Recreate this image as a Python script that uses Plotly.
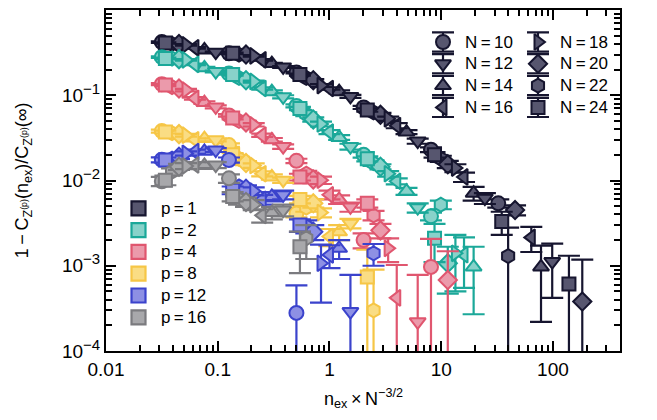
import plotly.graph_objects as go

# ---------------- data: x = n_ex * N^(-3/2) grid for each system size ----------------
X_N10 = [0.0316, 0.126, 0.506, 2.02, 8.1, 32.4]
X_N12 = [0.096, 0.385, 1.54, 6.16, 24.6, 98.5]
X_N14 = [0.076, 0.305, 1.22, 4.89, 19.5, 78.2]
X_N16 = [0.0625, 0.25, 1.0, 4.0, 16.0, 64.0]
X_N18 = [0.052, 0.21, 0.84, 3.35, 13.4, 53.6]
X_N20 = [0.045, 0.179, 0.716, 2.86, 11.45, 45.8, 183.0]
X_N22 = [0.039, 0.155, 0.62, 2.48, 9.92, 39.7]
X_N24 = [0.034, 0.136, 0.544, 2.18, 8.71, 34.8, 139.0]

# ---------------- p = 1 ----------------
Y_P1_N10 = [0.42, 0.31, 0.185, 0.072, 0.023, 0.0054]
E_P1_N10 = [0.008, 0.006, 0.005, 0.003, 0.0015, 0.0006]
Y_P1_N12 = [0.32, 0.215, 0.097, 0.029, 0.0062, 0.00112]
E_P1_N12 = [0.006, 0.005, 0.004, 0.002, 0.0009, 0.0007]
Y_P1_N14 = [0.34, 0.235, 0.11, 0.037, 0.0071, 0.00097]
E_P1_N14 = [0.007, 0.005, 0.004, 0.002, 0.0013, 0.00075]
Y_P1_N16 = [0.36, 0.26, 0.12, 0.044, 0.011, 0.00215]
E_P1_N16 = [0.007, 0.005, 0.004, 0.003, 0.0014, 0.0007]
Y_P1_N18 = [0.39, 0.29, 0.13, 0.053, 0.014]
E_P1_N18 = [0.008, 0.006, 0.005, 0.003, 0.0015]
Y_P1_N20 = [0.40, 0.30, 0.15, 0.059, 0.0155, 0.0045, 0.00038]
E_P1_N20 = [0.008, 0.006, 0.005, 0.003, 0.0015, 0.0006, 0.0008]
Y_P1_N22 = [0.40, 0.30, 0.16, 0.063, 0.018, 0.0013]
E_P1_N22 = [0.008, 0.006, 0.005, 0.003, 0.0015, 0.0015]
Y_P1_N24 = [0.41, 0.31, 0.175, 0.067, 0.020, 0.0033, 0.00061]
E_P1_N24 = [0.008, 0.006, 0.005, 0.003, 0.0015, 0.001, 0.0007]

# ---------------- p = 2 ----------------
Y_P2_N10 = [0.28, 0.18, 0.075, 0.020, 0.0038]
E_P2_N10 = [0.006, 0.005, 0.003, 0.0015, 0.0004]
Y_P2_N12 = [0.19, 0.096, 0.025, 0.0048]
E_P2_N12 = [0.005, 0.004, 0.002, 0.0006]
Y_P2_N14 = [0.21, 0.11, 0.032, 0.0075, 0.00097]
E_P2_N14 = [0.005, 0.004, 0.002, 0.0007, 0.0007]
Y_P2_N16 = [0.23, 0.12, 0.037, 0.0098, 0.00135]
E_P2_N16 = [0.005, 0.004, 0.002, 0.0008, 0.0008]
Y_P2_N18 = [0.26, 0.145, 0.046, 0.012, 0.0014]
E_P2_N18 = [0.006, 0.004, 0.003, 0.0009, 0.0009]
Y_P2_N20 = [0.265, 0.15, 0.052, 0.0145, 0.00107]
E_P2_N20 = [0.006, 0.004, 0.003, 0.001, 0.0006]
Y_P2_N22 = [0.27, 0.16, 0.060, 0.016, 0.0052]
E_P2_N22 = [0.006, 0.004, 0.003, 0.0012, 0.0006]
Y_P2_N24 = [0.27, 0.175, 0.070, 0.018, 0.0021]
E_P2_N24 = [0.006, 0.005, 0.003, 0.0012, 0.001]

# ---------------- p = 4 ----------------
Y_P4_N10 = [0.135, 0.058, 0.017, 0.0020, 0.00097]
E_P4_N10 = [0.004, 0.002, 0.001, 0.0004, 0.0011]
Y_P4_N12 = [0.073, 0.025, 0.0049, 0.00022]
E_P4_N12 = [0.003, 0.0015, 0.0006, 0.00056]
Y_P4_N14 = [0.082, 0.030, 0.0060]
E_P4_N14 = [0.003, 0.0015, 0.0007]
Y_P4_N16 = [0.092, 0.034, 0.0068, 0.00042]
E_P4_N16 = [0.003, 0.0015, 0.0008, 0.0006]
Y_P4_N18 = [0.115, 0.045, 0.0101, 0.0016]
E_P4_N18 = [0.004, 0.002, 0.001, 0.0005]
Y_P4_N20 = [0.12, 0.048, 0.0103, 0.0026, 0.00068]
E_P4_N20 = [0.004, 0.002, 0.001, 0.0005, 0.0008]
Y_P4_N22 = [0.125, 0.050, 0.012, 0.0039]
E_P4_N22 = [0.004, 0.002, 0.001, 0.0005]
Y_P4_N24 = [0.132, 0.054, 0.011, 0.0054]
E_P4_N24 = [0.004, 0.002, 0.001, 0.0006]

# ---------------- p = 8 ----------------
Y_P8_N10 = [0.038, 0.026, 0.0041]
E_P8_N10 = [0.0015, 0.0012, 0.0004]
Y_P8_N12 = [0.030, 0.0101, 0.00315]
E_P8_N12 = [0.0012, 0.0007, 0.0004]
Y_P8_N14 = [0.031, 0.011, 0.0025]
E_P8_N14 = [0.0012, 0.0008, 0.0005]
Y_P8_N16 = [0.030, 0.012, 0.0022]
E_P8_N16 = [0.0012, 0.0008, 0.0005]
Y_P8_N18 = [0.034, 0.015, 0.0042]
E_P8_N18 = [0.0013, 0.0009, 0.0005]
Y_P8_N20 = [0.035, 0.016, 0.0054]
E_P8_N20 = [0.0013, 0.0009, 0.0006]
Y_P8_N22 = [0.036, 0.018, 0.0048, 0.00030]
E_P8_N22 = [0.0014, 0.001, 0.0005, 0.0006]
Y_P8_N24 = [0.037, 0.020, 0.0060, 0.00074]
E_P8_N24 = [0.0014, 0.001, 0.0006, 0.0008]

# ---------------- p = 12 ----------------
Y_P12_N10 = [0.0175, 0.0174, 0.00028]
E_P12_N10 = [0.0012, 0.0012, 0.00031]
Y_P12_N12 = [0.0228, 0.0068, 0.00029]
E_P12_N12 = [0.0012, 0.0008, 0.00049]
Y_P12_N14 = [0.022, 0.0065, 0.0016]
E_P12_N14 = [0.0012, 0.0008, 0.0004]
Y_P12_N16 = [0.0218, 0.0060, 0.00134]
E_P12_N16 = [0.0012, 0.0008, 0.0004]
Y_P12_N18 = [0.0208, 0.0075, 0.00107]
E_P12_N18 = [0.0012, 0.0008, 0.0007]
Y_P12_N20 = [0.019, 0.0080, 0.0025]
E_P12_N20 = [0.0012, 0.0008, 0.0005]
Y_P12_N22 = [0.018, 0.0085, 0.0029, 0.0014]
E_P12_N22 = [0.0012, 0.0008, 0.0005, 0.0004]
Y_P12_N24 = [0.0174, 0.0077, 0.0030]
E_P12_N24 = [0.0012, 0.0008, 0.0005]

# ---------------- p = 16 ----------------
Y_P16_N10 = [0.0098, 0.0106]
E_P16_N10 = [0.0012, 0.0012]
Y_P16_N12 = [0.0152, 0.0045]
E_P16_N12 = [0.0012, 0.0007]
Y_P16_N14 = [0.0150, 0.0042]
E_P16_N14 = [0.0012, 0.0007]
Y_P16_N16 = [0.0152, 0.0039]
E_P16_N16 = [0.0012, 0.0007]
Y_P16_N18 = [0.0148, 0.0052]
E_P16_N18 = [0.0012, 0.0007]
Y_P16_N20 = [0.0145, 0.0056]
E_P16_N20 = [0.0012, 0.0007]
Y_P16_N22 = [0.0127, 0.0060, 0.0021]
E_P16_N22 = [0.0012, 0.0008, 0.0009]
Y_P16_N24 = [0.0101, 0.0065, 0.00167]
E_P16_N24 = [0.0013, 0.0008, 0.00085]

P_VALUES = [1, 2, 4, 8, 12, 16]
N_VALUES = [10, 12, 14, 16, 18, 20, 22, 24]
X_TICKS = [0.01, 0.1, 1, 10, 100]
X_TICK_TEXT = ["0.01", "0.1", "1", "10", "100"]
Y_TICKS = [1, 0.1, 0.01, 0.001, 0.0001]
SUP = "<sup><span style='font-size:15px'>\u2212{}</span></sup>"
Y_TICK_TEXT = ["1", "10" + SUP.format(1), "10" + SUP.format(2), "10" + SUP.format(3), "10" + SUP.format(4)]

# ---------------- table built from the arrays ----------------
g = globals()
X_BY_N = {n: g[f"X_N{n}"] for n in N_VALUES}
DATA = {(p, n): (g[f"Y_P{p}_N{n}"], g[f"E_P{p}_N{n}"]) for p in P_VALUES for n in N_VALUES}

LINE_COL = {1: "#16152f", 2: "#1ba899", 4: "#e0566f", 8: "#f6c646", 12: "#3b43cc", 16: "#7b7b7f"}
FILL_COL = {1: "#57566f", 2: "#88d2ca", 4: "#eb9aab", 8: "#fadd84", 12: "#8d90e4", 16: "#a8a8ab"}
SYMBOL = {10: "circle", 12: "triangle-down", 14: "triangle-up", 16: "triangle-left",
          18: "triangle-right", 20: "diamond", 22: "hexagon", 24: "square"}
MSIZE = {10: 14, 12: 14, 14: 14, 16: 14, 18: 14, 20: 14, 22: 14, 24: 13}
DRAW_ORDER = [10, 22, 20, 14, 16, 18, 12, 24]

FONT = "Liberation Sans, Arial, Helvetica, sans-serif"

# page body adds an 8 px offset; the figure is sized so that the plot area
# lands at window pixels x 106..620, y 10..351
PAGE_OFFSET = 8
FIG_W, FIG_H = 657 - PAGE_OFFSET, 420 - PAGE_OFFSET
M_L, M_R, M_T, M_B = 106 - PAGE_OFFSET, 37, 10 - PAGE_OFFSET, 69

fig = go.Figure()

for p in P_VALUES:
    for n in DRAW_ORDER:
        ys, es = DATA[(p, n)]
        xs = X_BY_N[n][:len(ys)]
        fig.add_trace(go.Scatter(
            x=xs, y=ys, mode="markers",
            marker=dict(symbol=SYMBOL[n], size=MSIZE[n], color=FILL_COL[p],
                        line=dict(color=LINE_COL[p], width=2)),
            error_y=dict(type="data", array=es, visible=True, color=LINE_COL[p],
                         thickness=2.2, width=11),
            showlegend=False, hoverinfo="skip"))

# ---------------- custom legends (plot-area pixel overlay axes) ----------------
N_LEG_COL_X = [443, 538]
N_LEG_ROW_Y = [42, 63.8, 85.6, 107.4]
for i, n in enumerate(N_VALUES):
    cx = N_LEG_COL_X[i // 4]
    cy = N_LEG_ROW_Y[i % 4]
    fig.add_trace(go.Scatter(
        x=[cx], y=[cy], mode="markers", xaxis="x2", yaxis="y2",
        marker=dict(symbol=SYMBOL[n], size=MSIZE[n], color=FILL_COL[1],
                    line=dict(color=LINE_COL[1], width=2)),
        error_y=dict(type="constant", value=9.6, visible=True, color=LINE_COL[1],
                     thickness=2.2, width=11),
        showlegend=False, hoverinfo="skip"))

P_LEG_X = 138.5
P_LEG_ROW_Y = [208.3, 230.1, 251.9, 273.7, 295.5, 317.3]
for i, p in enumerate(P_VALUES):
    fig.add_trace(go.Scatter(
        x=[P_LEG_X], y=[P_LEG_ROW_Y[i]], mode="markers", xaxis="x2", yaxis="y2",
        marker=dict(symbol="square", size=14, color=FILL_COL[p],
                    line=dict(color=LINE_COL[p], width=2.2)),
        showlegend=False, hoverinfo="skip"))

annotations = []
TS = "\u2009"
for i, n in enumerate(N_VALUES):
    annotations.append(dict(x=N_LEG_COL_X[i // 4] + 20, y=N_LEG_ROW_Y[i % 4], xref="x2", yref="y2",
                            text=f"N{TS}={TS}{n}", showarrow=False, xanchor="left", yanchor="middle",
                            font=dict(family=FONT, size=17, color="black")))
for i, p in enumerate(P_VALUES):
    annotations.append(dict(x=P_LEG_X + 20, y=P_LEG_ROW_Y[i], xref="x2", yref="y2",
                            text=f"p{TS}={TS}{p}", showarrow=False, xanchor="left", yanchor="middle",
                            font=dict(family=FONT, size=17, color="black")))

# axis titles
annotations.append(dict(x=0.5, y=-0.14, xref="paper", yref="paper",
                        text="n<sub>ex</sub>\u2009\u00d7\u2009N<sup>\u22123/2</sup>",
                        showarrow=False, xanchor="center", yanchor="middle",
                        font=dict(family=FONT, size=18, color="black")))
annotations.append(dict(x=-0.16, y=0.5, xref="paper", yref="paper", textangle=-90,
                        text="1\u2009\u2212\u2009C<sub>Z<sup>(p)</sup></sub>(n<sub>ex</sub>)/C<sub>Z<sup>(p)</sup></sub>(\u221e)",
                        showarrow=False, xanchor="center", yanchor="middle",
                        font=dict(family=FONT, size=18, color="black")))

minor_x = [m * 10 ** k for k in range(-2, 3) for m in range(2, 10)]
minor_y = [m * 10 ** k for k in range(-4, 0) for m in range(2, 10)]

axis_common = dict(type="log", ticks="inside", ticklen=10, tickwidth=2, tickcolor="black",
                   showline=True, linewidth=2, linecolor="black", mirror="allticks",
                   showgrid=False, zeroline=False, automargin=False,
                   tickfont=dict(family=FONT, size=19, color="black"))

fig.update_layout(
    width=FIG_W, height=FIG_H,
    margin=dict(l=M_L, r=M_R, t=M_T, b=M_B, autoexpand=False),
    paper_bgcolor="white", plot_bgcolor="white",
    showlegend=False,
    font=dict(family=FONT, size=18, color="black"),
    xaxis=dict(range=[-2, 2.6], tickmode="array", tickvals=X_TICKS, ticktext=X_TICK_TEXT,
               minor=dict(tickmode="array", tickvals=minor_x, ticks="inside", ticklen=6,
                          tickwidth=1.5, tickcolor="black", showgrid=False),
               **axis_common),
    yaxis=dict(range=[-4, 0], tickmode="array", tickvals=Y_TICKS, ticktext=Y_TICK_TEXT,
               minor=dict(tickmode="array", tickvals=minor_y, ticks="inside", ticklen=6,
                          tickwidth=1.5, tickcolor="black", showgrid=False),
               **axis_common),
    xaxis2=dict(range=[106, 620], overlaying="x", visible=False, fixedrange=True),
    yaxis2=dict(range=[351, 10], overlaying="y", visible=False, fixedrange=True),
    annotations=annotations,
)

fig.write_html("out.html")
